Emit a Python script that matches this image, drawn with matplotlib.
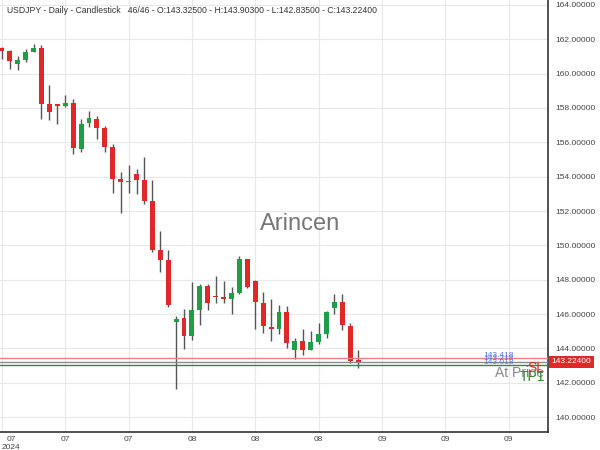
import matplotlib
matplotlib.use("Agg")
import matplotlib.pyplot as plt
import matplotlib.transforms as mtransforms
import numpy as np

plt.rcParams['font.family'] = ['Liberation Sans', 'DejaVu Sans']

# daily OHLC values (46 bars)
opens = [161.50, 161.30, 160.58, 160.78, 161.28, 161.51, 158.21, 158.21, 158.10, 158.29,
         155.61, 157.13, 157.38, 156.85, 155.73, 153.84, 153.67, 154.14, 153.79, 152.56,
         149.75, 149.13, 145.53, 145.79, 144.70, 146.25, 147.61, 147.03, 146.99, 146.89,
         147.24, 149.18, 147.92, 146.66, 145.24, 145.11, 146.12, 143.88, 144.43, 143.92,
         144.36, 144.85, 146.37, 146.70, 145.30, 143.325]
highs = [161.53, 161.36, 161.03, 161.46, 161.75, 161.69, 159.32, 158.25, 158.78, 158.54,
         157.34, 157.81, 157.53, 156.93, 155.92, 154.27, 154.66, 154.47, 155.15, 153.83,
         150.83, 149.71, 145.86, 146.31, 147.86, 147.77, 147.73, 148.19, 147.90, 147.57,
         149.36, 149.22, 148.00, 147.28, 146.85, 146.50, 146.45, 144.62, 145.15, 144.99,
         145.47, 146.17, 147.14, 147.14, 145.50, 143.903]
lows = [160.87, 160.25, 160.21, 160.68, 161.24, 157.34, 157.28, 157.09, 158.06, 155.34,
        155.44, 156.89, 156.21, 155.44, 153.05, 151.88, 153.05, 152.97, 152.39, 149.59,
        148.45, 146.41, 141.65, 143.98, 144.47, 145.34, 146.25, 146.64, 146.64, 146.02,
        147.14, 147.51, 145.15, 144.89, 144.43, 144.85, 144.02, 143.40, 143.63, 143.88,
        144.27, 144.62, 146.00, 145.09, 143.16, 142.835]
closes = [161.32, 160.72, 160.78, 161.26, 161.51, 158.21, 157.79, 158.10, 158.29, 155.67,
          157.09, 157.42, 156.85, 155.73, 153.84, 153.67, 153.73, 153.79, 152.56, 149.75,
          149.13, 146.54, 145.73, 144.70, 146.25, 147.61, 146.64, 146.99, 146.89, 147.24,
          149.18, 147.57, 146.70, 145.30, 145.11, 146.12, 144.33, 144.43, 143.92, 144.36,
          144.85, 146.12, 146.70, 145.34, 143.26, 143.224]

tick_pos = [0, 8, 16, 24, 32, 40, 48, 56, 64]
tick_labels = ['07\n2024', '07', '07', '08', '08', '08', '09', '09', '09']

sl_level = 143.418
tp_level = 143.018
last_price = 143.224
level_labels = ['143.418', '143.218', '143.018']
level_values = [143.418, 143.218, 143.018]

title = "USDJPY - Daily - Candlestick   46/46 - O:143.32500 - H:143.90300 - L:142.83500 - C:143.22400"

fig = plt.figure(figsize=(6, 4.5), dpi=100)
ax = fig.add_axes([0.0, 0.04, 0.9133, 0.96])

x = np.arange(len(opens))
o = np.array(opens)
c = np.array(closes)
up = c >= o
colors = np.where(up, '#1e9e48', '#e02828')

# wicks then bodies
ax.vlines(x, lows, highs, color='#555555', linewidth=1, zorder=2)
bottoms = np.minimum(o, c)
heights = np.maximum(np.abs(c - o), 0.06)
ax.bar(x, heights, bottom=bottoms, width=0.62, color=colors, zorder=3)

# horizontal levels
ax.axhline(sl_level, color='#f08080', linewidth=1, zorder=4)
ax.axhline(last_price, color='#8a8a8a', linewidth=1, zorder=4)
ax.axhline(tp_level, color='#2e8b2e', linewidth=1, zorder=4)

for lbl, val in zip(level_labels, level_values):
    ax.text(60.8, val + 0.17, lbl, color='#5577ee', fontsize=6, ha='left', va='center', zorder=5)

ax.text(62.3, 142.57, 'At Price', color='#888888', fontsize=10, ha='left', va='center', zorder=5)
ax.text(66.4, 142.88, 'SL', color='#e02828', fontsize=10, ha='left', va='center', zorder=6)
ax.text(65.4, 142.36, 'TP1', color='#2e8b2e', fontsize=10, ha='left', va='center', zorder=6)

ax.set_xlim(-0.24, 68.97)
ax.set_ylim(139.13, 164.29)

ax.set_yticks(np.arange(140, 165, 2))
ax.yaxis.tick_right()
ax.yaxis.set_major_formatter(matplotlib.ticker.FormatStrFormatter('%.5f'))
ax.set_xticks(tick_pos)
ax.set_xticklabels(tick_labels)
xl = ax.get_xticklabels()
xl[0].set_horizontalalignment('left')
xl[0].set_multialignment('center')
ax.tick_params(axis='both', length=0, labelsize=6, colors='#444444')
ax.tick_params(axis='y', pad=5)
ax.tick_params(axis='x', pad=3)

ax.grid(True, color='#e8e8e8', linewidth=0.8, zorder=0)
ax.set_axisbelow(True)
for s in ['top', 'left']:
    ax.spines[s].set_visible(False)
for s in ['right', 'bottom']:
    ax.spines[s].set_color('#333333')
    ax.spines[s].set_linewidth(1.2)

# current price box on the axis
trans = mtransforms.blended_transform_factory(ax.transAxes, ax.transData)
ax.text(1.006, last_price, '143.22400', transform=trans, color='white', fontsize=6,
        ha='left', va='center', clip_on=False,
        bbox=dict(boxstyle='square,pad=0.3', facecolor='#e02828', edgecolor='none'))

ax.text(0.547, 0.481, 'Arincen', transform=ax.transAxes, fontsize=17, color='#777777',
        ha='center', va='center', zorder=1)

fig.text(0.012, 0.976, title, fontsize=6.2, color='#333333', ha='left', va='center')

fig.savefig('out.png', dpi=100)
